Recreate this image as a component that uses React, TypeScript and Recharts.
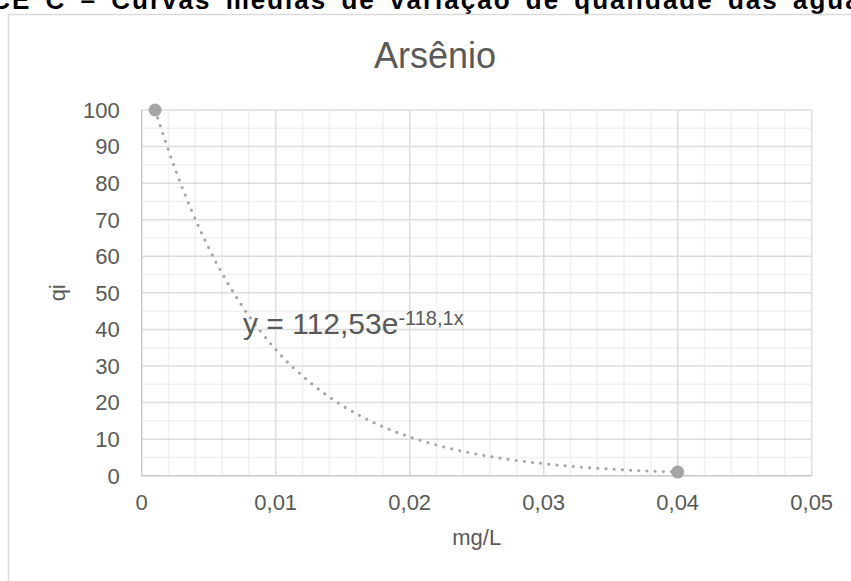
import React from "react";
import {
  ComposedChart,
  Line,
  Scatter,
  XAxis,
  YAxis,
  ReferenceLine,
} from "recharts";

// measured points (mg/L, qi)
const concentration = [0.001, 0.04];
const qualityIndex = [100, 1];

// exponential trendline y = 112,53e^(-118,1x)
const trendX = [
  0.001, 0.0025, 0.005, 0.0075, 0.01, 0.0125, 0.015, 0.0175, 0.02, 0.0225,
  0.025, 0.0275, 0.03, 0.0325, 0.035, 0.0375, 0.04,
];
const trendY = [
  100, 83.8, 62.3, 46.4, 34.5, 25.7, 19.1, 14.2, 10.6, 7.9, 5.9, 4.4, 3.3,
  2.4, 1.8, 1.3, 1.0,
];

const xTicks = [0, 0.01, 0.02, 0.03, 0.04, 0.05];
const yTicks = [0, 10, 20, 30, 40, 50, 60, 70, 80, 90, 100];

const xMinor = [
  0.002, 0.004, 0.006, 0.008, 0.012, 0.014, 0.016, 0.018, 0.022, 0.024, 0.026,
  0.028, 0.032, 0.034, 0.036, 0.038, 0.042, 0.044, 0.046, 0.048,
];
const yMinor = [5, 15, 25, 35, 45, 55, 65, 75, 85, 95];

const points = concentration.map((x, i) => ({ x, y: qualityIndex[i] }));
const trend = trendX.map((x, i) => ({ x, y: trendY[i] }));

const FONT = "'Liberation Sans', Arial, sans-serif";
const TEXT = "#595959";
const MAJOR = "#dcdcdc";
const MINOR = "#f0f0f0";
const SERIES = "#a5a5a5";

const fmt = (v: number) => String(v).replace(".", ",");

const Dot = (props: any) => (
  <circle cx={props.cx} cy={props.cy} r={6.5} fill={SERIES} />
);

export default function App() {
  return (
    <div
      style={{
        position: "absolute",
        left: 0,
        top: 0,
        width: 851,
        height: 581,
        overflow: "hidden",
        background: "#fff",
        fontFamily: FONT,
      }}
    >
      <svg
        width={851}
        height={581}
        style={{ position: "absolute", left: 0, top: 0 }}
      >
        {/* page heading above the chart frame, justified in the document */}
        <text
          x={-119}
          y={9}
          fontSize={26}
          fontWeight="bold"
          fill="#000"
          fontFamily={FONT}
          letterSpacing={2}
          wordSpacing={5}
        >
          APÊNDICE C – Curvas médias de variação de qualidade das águas
        </text>
        <rect
          x={8.5}
          y={14.5}
          width={870}
          height={600}
          fill="#fff"
          stroke="#d9d9d9"
          strokeWidth={1.5}
        />
      </svg>

      <div style={{ position: "absolute", left: 0, top: 0 }}>
        <ComposedChart
          width={851}
          height={581}
          margin={{ top: 110, right: 39.3, bottom: 75.3, left: 0 }}
        >
          <XAxis
            dataKey="x"
            type="number"
            domain={[0, 0.05]}
            ticks={xTicks}
            tickFormatter={fmt}
            height={30}
            tickLine={false}
            tickSize={0}
            tickMargin={19}
            axisLine={{ stroke: "#c9c9c9", strokeWidth: 1.5 }}
            tick={{ fill: TEXT, fontSize: 22, fontFamily: FONT }}
          />
          <YAxis
            dataKey="y"
            type="number"
            domain={[0, 100]}
            ticks={yTicks}
            width={141.7}
            tickLine={false}
            tickSize={0}
            tickMargin={22}
            axisLine={{ stroke: "#c9c9c9", strokeWidth: 1.5 }}
            tick={{ fill: TEXT, fontSize: 22, fontFamily: FONT }}
          />

          {xMinor.map((v) => (
            <ReferenceLine key={`xm${v}`} x={v} stroke={MINOR} strokeWidth={1.5} />
          ))}
          {yMinor.map((v) => (
            <ReferenceLine key={`ym${v}`} y={v} stroke={MINOR} strokeWidth={1.5} />
          ))}
          {xTicks.slice(1).map((v) => (
            <ReferenceLine key={`xM${v}`} x={v} stroke={MAJOR} strokeWidth={1.5} />
          ))}
          {yTicks.slice(1).map((v) => (
            <ReferenceLine key={`yM${v}`} y={v} stroke={MAJOR} strokeWidth={1.5} />
          ))}

          <Line
            data={trend}
            dataKey="y"
            type="monotone"
            stroke={SERIES}
            strokeWidth={3}
            strokeDasharray="0.1 8.1"
            strokeLinecap="round"
            dot={false}
            activeDot={false}
            isAnimationActive={false}
          />
          <Scatter
            data={points}
            dataKey="y"
            fill={SERIES}
            shape={Dot}
            isAnimationActive={false}
          />
        </ComposedChart>
      </div>

      <svg
        width={851}
        height={581}
        style={{ position: "absolute", left: 0, top: 0, pointerEvents: "none" }}
      >
        <text
          x={435}
          y={68}
          textAnchor="middle"
          fontSize={36}
          fill={TEXT}
          fontFamily={FONT}
        >
          Arsênio
        </text>
        <text
          x={476.7}
          y={545}
          textAnchor="middle"
          fontSize={22}
          fill={TEXT}
          fontFamily={FONT}
        >
          mg/L
        </text>
        <text
          x={65}
          y={292.8}
          textAnchor="middle"
          fontSize={22}
          fill={TEXT}
          fontFamily={FONT}
          transform="rotate(-90 65 292.8)"
        >
          qi
        </text>
        <text x={243} y={334} fontSize={30} fill={TEXT} fontFamily={FONT}>
          y = 112,53e
          <tspan fontSize={20} dy={-9}>
            -118,1x
          </tspan>
        </text>
      </svg>
    </div>
  );
}
